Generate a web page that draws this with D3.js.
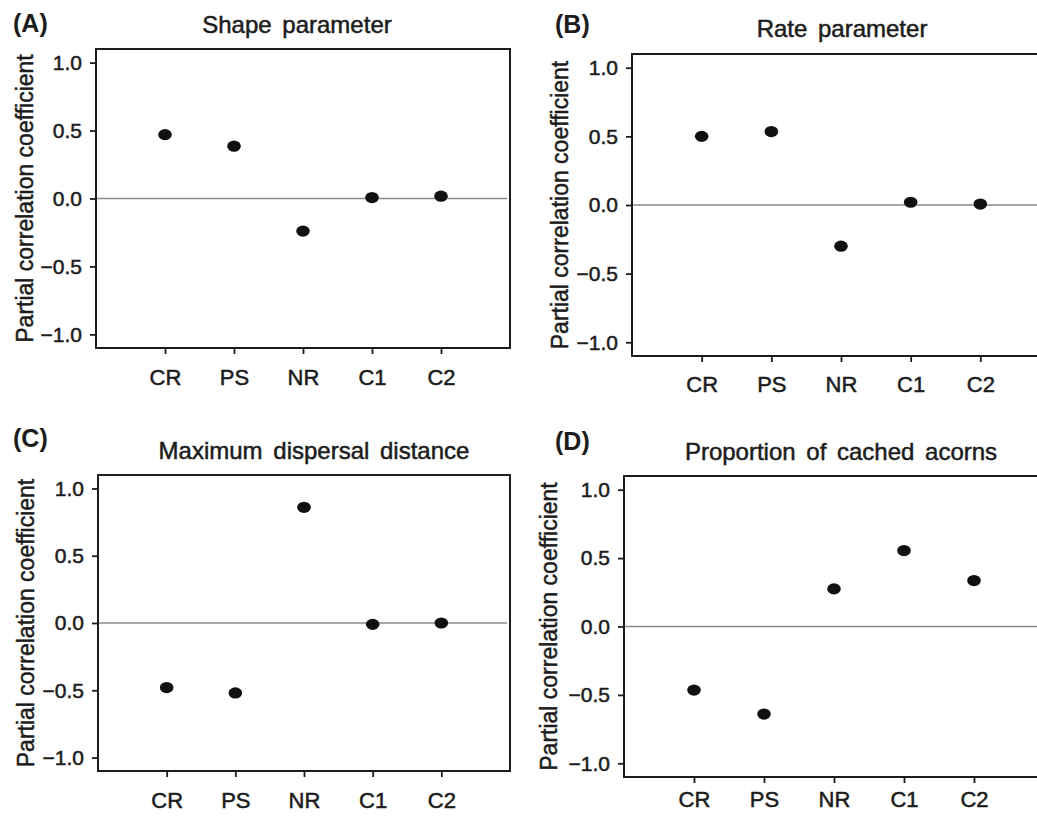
<!DOCTYPE html>
<html>
<head>
<meta charset="utf-8">
<script src="https://cdn.jsdelivr.net/npm/d3@7"></script>
<style>
    body { margin: 0; background: #fff; }
    svg { display: block; font-family: 'Liberation Sans', Arial, sans-serif; }
</style>
</head>
<body>
<div id="chart"></div>
<script>
const categories = ['CR', 'PS', 'NR', 'C1', 'C2']
const yTicks = [-1.0, -0.5, 0.0, 0.5, 1.0]

const shapeValues = [0.47, 0.385, -0.24, 0.007, 0.017]
const rateValues = [0.50, 0.535, -0.30, 0.02, 0.007]
const distanceValues = [-0.48, -0.52, 0.86, -0.01, 0.0]
const cachedValues = [-0.465, -0.64, 0.275, 0.555, 0.336]

const panelLabels = ['(A)', '(B)', '(C)', '(D)']
const panelTitles = ['Shape parameter', 'Rate parameter', 'Maximum dispersal distance', 'Proportion of cached acorns']
const yLabel = 'Partial correlation coefficient'

const ink = '#1c1c1c'

// where each panel sits on the page (the right column runs off the edge, like the scan)
const layout = [
    {left: 96, top: 49, right: 510, bottom: 348, titleX: 297, titleY: 33, labelX: 13, labelY: 32, yLabelX: 33, xPad: 15},
    {left: 632, top: 54, right: 1050, bottom: 356, titleX: 842, titleY: 37, labelX: 555, labelY: 33, yLabelX: 568, xPad: 14},
    {left: 98, top: 475, right: 510, bottom: 771, titleX: 314, titleY: 459, labelX: 13, labelY: 447, yLabelX: 34, xPad: 15},
    {left: 624, top: 476, right: 1044, bottom: 777, titleX: 841, titleY: 460, labelX: 555, labelY: 450, yLabelX: 557, xPad: 8}
]

const svg = d3.select('#chart').append('svg')
    .attr('width', 1037)
    .attr('height', 817)

const series = [shapeValues, rateValues, distanceValues, cachedValues]
series.forEach((values, i) => {
    drawPanel(svg, values, i)
})

// scanned type is a bit heavier than the screen font
function heavy(sel, size) {
    sel.attr('fill', ink)
        .attr('stroke', ink)
        .attr('stroke-width', 0.5)
        .style('font-size', size)
}

function drawPanel(svg, values, i) {
    const box = layout[i]
    const g = svg.append('g')

    const x = d3.scalePoint()
        .domain(categories)
        .range([box.left, box.right])
        .padding(1)

    const y = d3.scaleLinear()
        .domain([-1.1, 1.1])
        .range([box.bottom, box.top])

    // zero reference line
    g.append('line')
        .attr('x1', box.left + 1)
        .attr('x2', box.right - 3)
        .attr('y1', y(0))
        .attr('y2', y(0))
        .attr('stroke', '#8a8a8a')
        .attr('stroke-width', 1.3)

    // frame
    g.append('rect')
        .attr('x', box.left)
        .attr('y', box.top)
        .attr('width', box.right - box.left)
        .attr('height', box.bottom - box.top)
        .attr('fill', 'none')
        .attr('stroke', ink)
        .attr('stroke-width', 2)

    const yAxis = g.append('g')
        .attr('transform', 'translate(' + box.left + ',0)')
        .call(d3.axisLeft(y).tickValues(yTicks).tickFormat(d3.format('.1f')).tickSize(6).tickPadding(8))
    yAxis.select('.domain').remove()
    yAxis.selectAll('line').attr('stroke', ink).attr('stroke-width', 1.8)
    yAxis.selectAll('text').call(heavy, '21px')

    const xAxis = g.append('g')
        .attr('transform', 'translate(0,' + box.bottom + ')')
        .call(d3.axisBottom(x).tickSize(6).tickPadding(box.xPad))
    xAxis.select('.domain').remove()
    xAxis.selectAll('line').attr('stroke', ink).attr('stroke-width', 1.8)
    xAxis.selectAll('text').call(heavy, '22px')

    g.selectAll('.dot')
        .data(values)
        .enter()
        .append('ellipse')
        .attr('class', 'dot')
        .attr('cx', (d, j) => { return x(categories[j]) })
        .attr('cy', (d) => { return y(d) })
        .attr('rx', 6.8)
        .attr('ry', 5.6)
        .attr('fill', '#111')

    g.append('text')
        .attr('x', box.titleX)
        .attr('y', box.titleY)
        .attr('text-anchor', 'middle')
        .style('word-spacing', '4px')
        .call(heavy, '24px')
        .text(panelTitles[i])

    g.append('text')
        .attr('x', box.labelX)
        .attr('y', box.labelY)
        .attr('fill', ink)
        .style('font-size', '25px')
        .style('font-weight', 'bold')
        .text(panelLabels[i])

    g.append('text')
        .attr('transform', 'translate(' + box.yLabelX + ',' + ((box.top + box.bottom) / 2) + ') rotate(-90)')
        .attr('text-anchor', 'middle')
        .call(heavy, '23px')
        .text(yLabel)
}
</script>
</body>
</html>
